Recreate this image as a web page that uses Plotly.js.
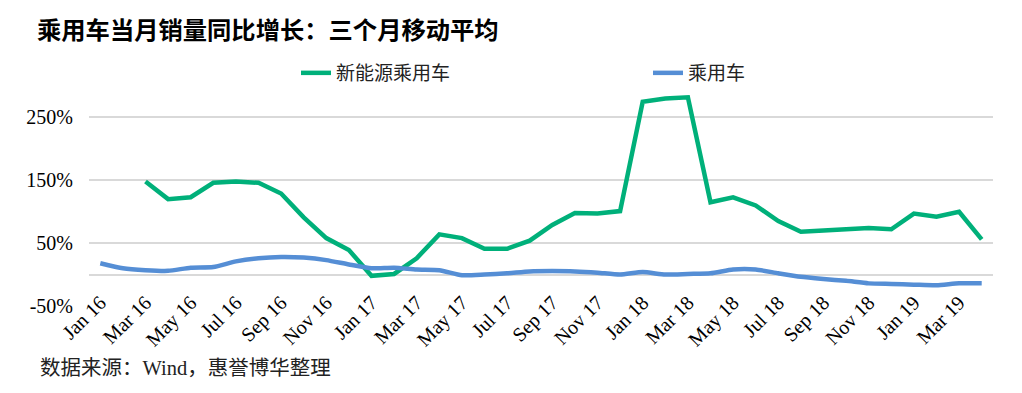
<!DOCTYPE html>
<html>
<head>
<meta charset="utf-8">
<script src="https://cdn.plot.ly/plotly-3.0.1.min.js"></script>
<style>html,body{margin:0;padding:0;background:#fff;}#chart{width:1022px;height:393px;}</style>
</head>
<body>
<div id="chart"></div>
<script>
const months = [
  "Jan 16","Feb 16","Mar 16","Apr 16","May 16","Jun 16","Jul 16","Aug 16","Sep 16","Oct 16","Nov 16","Dec 16",
  "Jan 17","Feb 17","Mar 17","Apr 17","May 17","Jun 17","Jul 17","Aug 17","Sep 17","Oct 17","Nov 17","Dec 17",
  "Jan 18","Feb 18","Mar 18","Apr 18","May 18","Jun 18","Jul 18","Aug 18","Sep 18","Oct 18","Nov 18","Dec 18",
  "Jan 19","Feb 19","Mar 19","Apr 19"
];
// 新能源乘用车 (%), three-month moving average YoY growth
const nevGrowth = [
  null, null, 148, 120, 123, 146, 148, 146, 129, 91, 58, 39,
  -2, 1, 26, 64, 58, 41, 41, 54, 79, 98, 97, 101,
  275, 280, 282, 115, 123, 110, 85, 68, 70, 72, 74, 72,
  97, 92, 100, 56
];
// 乘用车 (%)
const pvGrowth = [
  18, 10, 7, 6, 11, 12, 21, 26, 28, 27, 23, 16,
  10, 11, 8, 7, -1, 0, 2, 5, 5.5, 5, 3, 0,
  4, 0, 1, 2, 8, 8, 2, -3.5, -7, -10, -14, -15,
  -16, -17, -14, -14
];
const tickMonths = months.filter((m, i) => i % 2 === 0);
const yTicks = [-50, 50, 150, 250];
const yTickText = yTicks.map(v => v + "%");

const serif = "Liberation Serif, Noto Sans CJK SC, serif";

const traces = [
  {
    x: months, y: nevGrowth, type: "scatter", mode: "lines", name: "新能源乘用车",
    line: {color: "#00B07A", width: 4.5}, connectgaps: false, legend: "legend"
  },
  {
    x: months, y: pvGrowth, type: "scatter", mode: "lines", name: "乘用车",
    line: {color: "#558ED5", width: 4.5, shape: "spline", smoothing: 0.6}, legend: "legend2"
  }
];

const layout = {
  width: 1022, height: 393,
  margin: {l: 89, r: 29, t: 86, b: 87},
  paper_bgcolor: "#fff", plot_bgcolor: "#fff",
  showlegend: true,
  title: {
    text: "乘用车当月销量同比增长：三个月移动平均",
    font: {family: "Noto Sans CJK SC", size: 24.3, color: "#000", weight: "bold"},
    xref: "container", x: 37/1022, xanchor: "left",
    yref: "container", y: 1 - 30/393, yanchor: "middle"
  },
  xaxis: {
    type: "category", categoryorder: "array", categoryarray: months,
    range: [-0.5, 39.5],
    tickmode: "array", tickvals: tickMonths, ticktext: tickMonths,
    tickangle: -45, ticks: "", showgrid: false, showline: false, zeroline: false,
    tickfont: {family: serif, size: 20, color: "#000"},
    ticklabelstandoff: -20
  },
  yaxis: {
    range: [-50, 300], tickmode: "array", tickvals: yTicks, ticktext: yTickText,
    showgrid: true, gridcolor: "#d9d9d9", gridwidth: 2,
    zeroline: true, zerolinecolor: "#d9d9d9", zerolinewidth: 2,
    showline: false, ticks: "",
    tickfont: {family: serif, size: 20, color: "#000"},
    ticklabelstandoff: 15
  },
  legend: {
    orientation: "h", xref: "paper", yref: "paper",
    x: (296 - 89) / 904, xanchor: "left", y: 1 + 13/220, yanchor: "middle",
    font: {family: serif, size: 19, color: "#222"}, bgcolor: "rgba(0,0,0,0)"
  },
  legend2: {
    orientation: "h", xref: "paper", yref: "paper",
    x: (648 - 89) / 904, xanchor: "left", y: 1 + 13/220, yanchor: "middle",
    font: {family: serif, size: 19, color: "#222"}, bgcolor: "rgba(0,0,0,0)"
  },
  annotations: [{
    text: "数据来源：Wind，惠誉博华整理", showarrow: false,
    xref: "paper", yref: "paper", x: (38 - 89) / 904, xanchor: "left",
    y: (306 - 368) / 220, yanchor: "middle",
    font: {family: serif, size: 20.5, color: "#222"}
  }]
};

Plotly.newPlot("chart", traces, layout, {displayModeBar: false, staticPlot: true});
</script>
</body>
</html>
